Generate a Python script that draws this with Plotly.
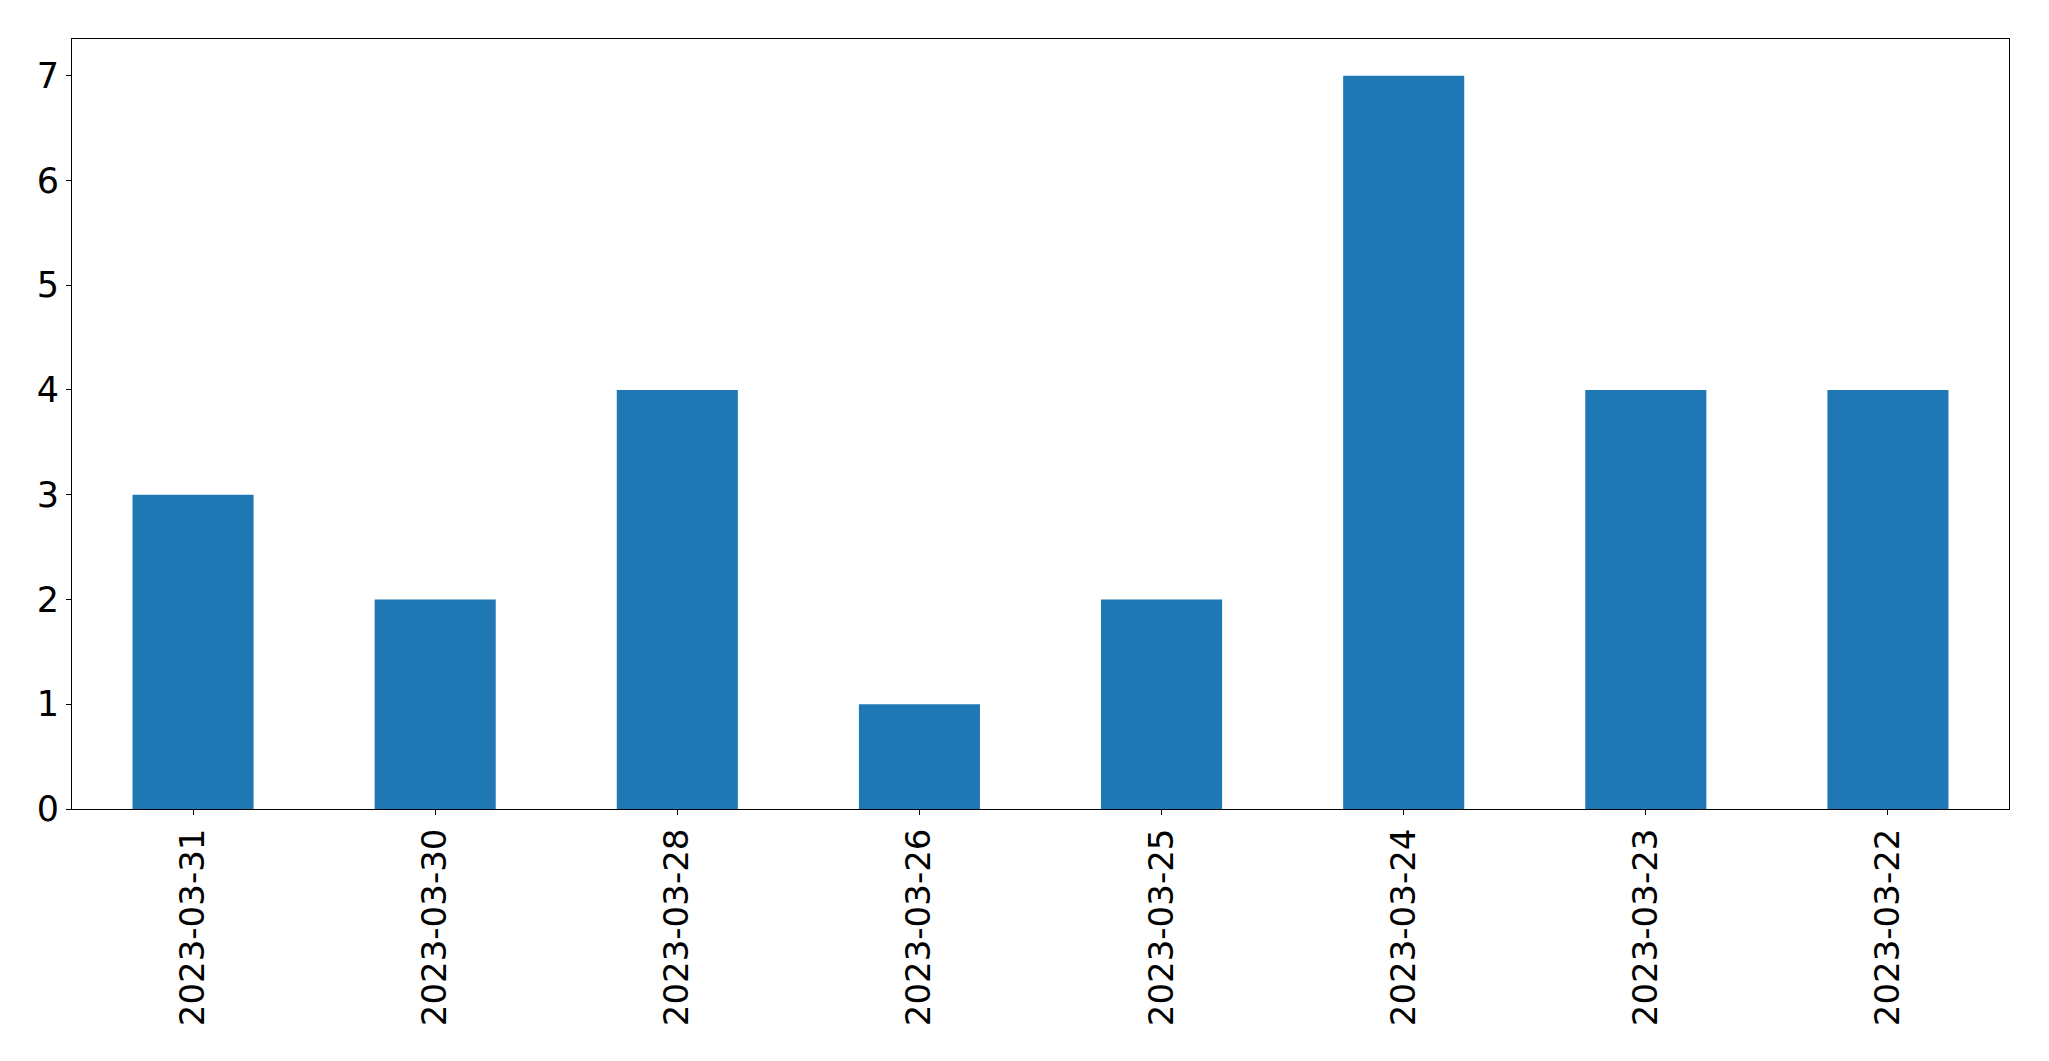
import plotly.graph_objects as go

dates = ["2023-03-31", "2023-03-30", "2023-03-28", "2023-03-26",
         "2023-03-25", "2023-03-24", "2023-03-23", "2023-03-22"]
counts = [3, 2, 4, 1, 2, 7, 4, 4]
y_ticks = [0, 1, 2, 3, 4, 5, 6, 7]

fig = go.Figure(go.Bar(x=dates, y=counts, marker=dict(color="#1f77b4", line=dict(width=0)),
                       width=0.5))

axis_common = dict(showline=True, linecolor="black", linewidth=1, mirror=True,
                   ticks="outside", ticklen=5, tickwidth=1, tickcolor="black",
                   showgrid=False, zeroline=False, automargin=False,
                   tickfont=dict(family="DejaVu Sans", size=34, color="black"))

fig.update_xaxes(type="category", range=[-0.5, 7.5], tickangle=-90,
                 ticklabelstandoff=0, **axis_common)
fig.update_yaxes(range=[0, 7.35], tickvals=y_ticks, ticklabelstandoff=0,
                 tickfont=dict(family="DejaVu Sans", size=35, color="black"),
                 **{k: v for k, v in axis_common.items() if k != "tickfont"})

fig.update_layout(width=2049, height=1061, autosize=False,
                  margin=dict(l=64, r=48, t=31, b=260, autoexpand=False),
                  plot_bgcolor="white", paper_bgcolor="white", showlegend=False)

fig.write_html("out.html")
